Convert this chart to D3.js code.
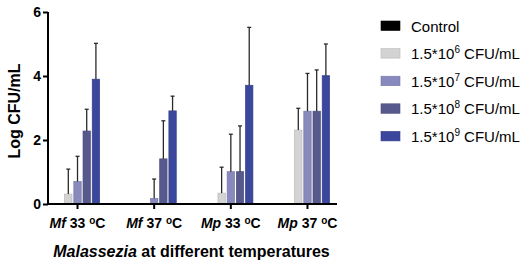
<!DOCTYPE html>
<html>
<head>
<meta charset="utf-8">
<script src="https://cdn.jsdelivr.net/npm/d3@7"></script>
<style>
  body { margin: 0; background: #fff; }
  svg text { font-family: "Liberation Sans", Arial, sans-serif; }
</style>
</head>
<body>
<div id="chart" style="width:529px;height:261px"></div>
<script>
// data
const groups = ["Mf 33", "Mf 37", "Mp 33", "Mp 37"];
const series = ["Control", "1.5e6", "1.5e7", "1.5e8", "1.5e9"];
const seriesExp = ["", "6", "7", "8", "9"];
const seriesColors = ["#000000", "#d3d3d3", "#8889bd", "#57598d", "#3a479c"];
// mean values, one array per group, in series order
const meanMf33 = [0, 0.31, 0.70, 2.28, 3.90];
const meanMf37 = [0, 0, 0.17, 1.41, 2.91];
const meanMp33 = [0, 0.34, 1.01, 1.01, 3.71];
const meanMp37 = [0, 2.31, 2.90, 2.90, 4.01];
// top of the error bars
const errMf33 = [0, 1.09, 1.49, 2.96, 5.02];
const errMf37 = [0, 0, 0.78, 2.60, 3.37];
const errMp33 = [0, 1.15, 2.18, 2.44, 5.52];
const errMp37 = [0, 2.99, 4.08, 4.19, 5.00];
const yTicks = [0, 2, 4, 6];

const means = [meanMf33, meanMf37, meanMp33, meanMp37];
const errs = [errMf33, errMf37, errMp33, errMp37];

const width = 529, height = 261;
const svg = d3.select("#chart").append("svg")
    .attr("width", width)
    .attr("height", height)
    .attr("viewBox", `0 0 ${width} ${height}`);

const plotLeft = 48, plotRight = 337, plotBottom = 204, plotTop = 12;

const x0 = d3.scaleBand()
    .domain(groups)
    .range([plotLeft, plotRight])
    .paddingInner(0.4)
    .paddingOuter(0.085);

const x1 = d3.scaleBand()
    .domain(series)
    .range([0, x0.bandwidth()])
    .paddingInner(0.2)
    .paddingOuter(0.1);

const y = d3.scaleLinear().domain([0, 6]).range([plotBottom, plotTop]);

// flat table for bars
const rows = [];
groups.forEach((g, gi) => {
    series.forEach((s, si) => {
        rows.push({ g, s, si, v: means[gi][si], e: errs[gi][si] });
    });
});

const bars = svg.append("g");
bars.selectAll("rect")
    .data(rows.filter(d => d.v > 0))
    .join("rect")
    .attr("x", d => x0(d.g) + x1(d.s))
    .attr("y", d => y(d.v))
    .attr("width", x1.bandwidth())
    .attr("height", d => y(0) - y(d.v))
    .attr("fill", d => seriesColors[d.si])
    .attr("stroke", d => d3.color(seriesColors[d.si]).darker(0.35))
    .attr("stroke-width", 0.7);

// error bars (upper only)
const eb = svg.append("g")
    .attr("stroke", "#2a2a2a")
    .attr("stroke-width", 1.3);
const withErr = rows.filter(d => d.e > d.v);
eb.selectAll("line.stem")
    .data(withErr)
    .join("line")
    .attr("class", "stem")
    .attr("x1", d => x0(d.g) + x1(d.s) + x1.bandwidth() / 2)
    .attr("x2", d => x0(d.g) + x1(d.s) + x1.bandwidth() / 2)
    .attr("y1", d => y(d.v))
    .attr("y2", d => y(d.e));
eb.selectAll("line.cap")
    .data(withErr)
    .join("line")
    .attr("class", "cap")
    .attr("x1", d => x0(d.g) + x1(d.s) + x1.bandwidth() / 2 - 2)
    .attr("x2", d => x0(d.g) + x1(d.s) + x1.bandwidth() / 2 + 2)
    .attr("y1", d => y(d.e))
    .attr("y2", d => y(d.e));

// y axis
const yAxis = svg.append("g")
    .attr("transform", `translate(${plotLeft},0)`)
    .call(d3.axisLeft(y).tickValues(yTicks).tickFormat(d3.format("d")).tickSize(5).tickPadding(2));
yAxis.select(".domain").attr("stroke-width", 2).attr("d", `M0,${plotBottom + 1}V${plotTop}`);
yAxis.selectAll(".tick line").attr("stroke-width", 2);
yAxis.selectAll(".tick text")
    .style("font-size", "14px")
    .style("font-weight", "bold")
    .attr("fill", "#000");

// x axis
const xAxis = svg.append("g")
    .attr("transform", `translate(0,${plotBottom})`)
    .call(d3.axisBottom(x0).tickSize(5).tickFormat(""));
xAxis.select(".domain").attr("stroke-width", 2).attr("d", `M${plotLeft - 1},0H${plotRight}`);
xAxis.selectAll(".tick line").attr("stroke-width", 2);

const xLab = svg.append("g");
groups.forEach(g => {
    const parts = g.split(" ");
    const t = xLab.append("text")
        .attr("x", x0(g) + x0.bandwidth() / 2)
        .attr("y", 228)
        .attr("text-anchor", "middle")
        .style("font-size", "14px")
        .style("font-weight", "bold");
    t.append("tspan").style("font-style", "italic").text(parts[0]);
    t.append("tspan").text(" " + parts[1] + " ");
    t.append("tspan").attr("dy", -4).style("font-size", "10px").text("o");
    t.append("tspan").attr("dy", 4).text("C");
});

// axis titles
const xt = svg.append("text")
    .attr("x", (plotLeft + plotRight) / 2 - 1)
    .attr("y", 257)
    .attr("text-anchor", "middle")
    .style("font-size", "16px")
    .style("font-weight", "bold");
xt.append("tspan").style("font-style", "italic").text("Malassezia");
xt.append("tspan").text(" at different temperatures");

svg.append("text")
    .attr("transform", `translate(20,${(plotTop + plotBottom) / 2 + 3}) rotate(-90)`)
    .attr("text-anchor", "middle")
    .style("font-size", "16px")
    .style("font-weight", "bold")
    .text("Log CFU/mL");

// legend
const legend = svg.append("g").attr("transform", "translate(381,21)");
series.forEach((s, i) => {
    const row = legend.append("g").attr("transform", `translate(0,${i * 27.6})`);
    row.append("rect")
        .attr("width", 19)
        .attr("height", 9.5)
        .attr("fill", seriesColors[i])
        .attr("stroke", d3.color(seriesColors[i]).darker(0.35))
        .attr("stroke-width", 0.6);
    const t = row.append("text")
        .attr("x", 30)
        .attr("y", 10.5)
        .style("font-size", "15px");
    if (i === 0) {
        t.text("Control");
    } else {
        t.append("tspan").text("1.5*10");
        t.append("tspan").attr("dy", -6).style("font-size", "10px").text(seriesExp[i]);
        t.append("tspan").attr("dy", 6).text(" CFU/mL");
    }
});
</script>
</body>
</html>
